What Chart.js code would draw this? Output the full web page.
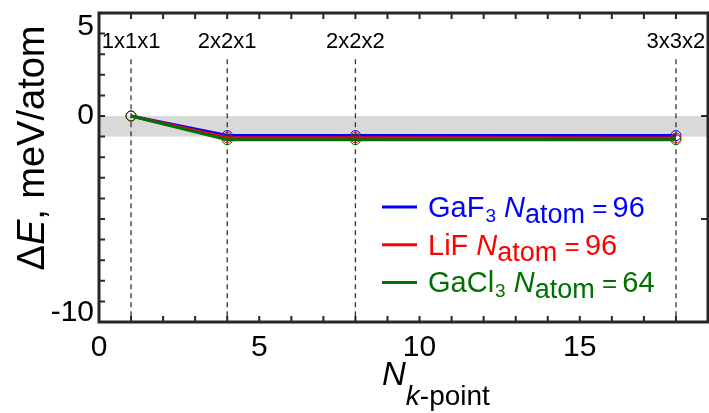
<!DOCTYPE html>
<html>
<head>
<meta charset="utf-8">
<script src="https://cdn.jsdelivr.net/npm/chart.js@4.4.0/dist/chart.umd.min.js"></script>
<style>
html, body { margin: 0; padding: 0; background: #fff; overflow: hidden; width: 709px; height: 413px; }
#wrap { position: relative; width: 716px; height: 413px; }
</style>
</head>
<body>
<div id="wrap"><canvas id="chart" width="716" height="413"></canvas></div>
<script>
// k-point meshes and energy differences (meV/atom) relative to 1x1x1
const kpoints = [1, 4, 8, 18];
const kgrids = ['1x1x1', '2x2x1', '2x2x2', '3x3x2'];
const gaf3 = [0, -0.95, -0.95, -0.95];
const lif = [0, -1.05, -1.05, -1.07];
const gacl3 = [0, -1.15, -1.15, -1.15];
const formulas = ['GaF', 'LiF', 'GaCl'];
const formulaSubs = ['3', '', '3'];
const nAtoms = [96, 96, 64];
const band = [-1, 0];
const yLabels = [5, 0, -10];

const colors = ['#0000ff', '#ff0000', '#007000'];
const FONT = "'Liberation Sans', Arial, Helvetica, sans-serif";
const guideTop = 2.75;

let ctx = document.getElementById('chart');

function series(vals, color, order) {
    return {
        data: kpoints.map((k, i) => ({ x: k, y: vals[i] })),
        borderColor: color,
        borderWidth: 3,
        pointRadius: 5,
        pointBorderWidth: 1,
        pointBackgroundColor: 'rgba(0,0,0,0)',
        pointBorderColor: color,
        fill: false,
        tension: 0,
        order: order
    };
}

let datasets = [
    series(gaf3, colors[0], 2),
    series(lif, colors[1], 1),
    series(gacl3, colors[2], 0)
];
// vertical dashed guides at each mesh
kpoints.forEach(k => {
    datasets.push({
        data: [{ x: k, y: guideTop }, { x: k, y: -10 }],
        borderColor: '#333',
        borderWidth: 1.3,
        borderDash: [5, 4],
        pointRadius: 0,
        order: 5
    });
});

function txt(c, s, x, y, size, italic, color) {
    c.font = (italic ? 'italic ' : '') + size + 'px ' + FONT;
    c.fillStyle = color;
    c.fillText(s, x, y);
    return x + c.measureText(s).width;
}

const decor = {
    id: 'decor',
    beforeDatasetsDraw(chart) {
        const c = chart.ctx, a = chart.chartArea, ys = chart.scales.y;
        c.save();
        c.fillStyle = '#d9d9d9';
        let y0 = ys.getPixelForValue(band[1]), y1 = ys.getPixelForValue(band[0]);
        c.fillRect(a.left, y0, a.right - a.left, y1 - y0);
        c.restore();
    },
    afterDatasetsDraw(chart) {
        const c = chart.ctx, a = chart.chartArea;
        const xs = chart.scales.x, ys = chart.scales.y;
        c.save();
        // frame
        c.strokeStyle = '#262626';
        c.lineWidth = 3;
        c.strokeRect(a.left, a.top, a.right - a.left, a.bottom - a.top);
        // inward ticks
        c.lineWidth = 2;
        c.beginPath();
        xs.ticks.forEach(t => {
            let p = xs.getPixelForValue(t.value);
            c.moveTo(p, a.bottom); c.lineTo(p, a.bottom - 6);
            c.moveTo(p, a.top); c.lineTo(p, a.top + 6);
        });
        ys.ticks.forEach(t => {
            let p = ys.getPixelForValue(t.value);
            c.moveTo(a.left, p); c.lineTo(a.left + 6, p);
            if (t.value % 5 === 0) { c.moveTo(a.right, p); c.lineTo(a.right - 7, p); }
        });
        c.stroke();

        // y tick labels
        c.textAlign = 'right';
        c.textBaseline = 'middle';
        c.font = '30px ' + FONT;
        c.fillStyle = '#000';
        yLabels.forEach(v => {
            let p = ys.getPixelForValue(v);
            p = Math.min(Math.max(p, a.top + 14), a.bottom - 9);
            c.fillText(String(v), a.left - 5, p);
        });

        // mesh labels
        c.textAlign = 'center';
        c.font = '22px ' + FONT;
        kgrids.forEach((g, i) => {
            c.fillText(g, xs.getPixelForValue(kpoints[i]), ys.getPixelForValue(guideTop) - 17);
        });

        // axis titles
        c.textAlign = 'left';
        c.textBaseline = 'alphabetic';
        let x = txt(c, 'N', 382, 385, 33, true, '#000');
        x = txt(c, 'k', x, 405, 28, true, '#000');
        txt(c, '-point', x, 405, 28, false, '#000');

        c.save();
        c.translate(44, 148);
        c.rotate(-Math.PI / 2);
        c.font = '38px ' + FONT;
        let w = c.measureText('\u0394, meV/atom').width;
        c.font = 'italic 38px ' + FONT;
        w += c.measureText('E').width;
        let tx = -w / 2;
        tx = txt(c, '\u0394', tx, 0, 38, false, '#000');
        tx = txt(c, 'E', tx, 0, 38, true, '#000');
        txt(c, ', meV/atom', tx, 0, 38, false, '#000');
        c.restore();

        // legend
        formulas.forEach((f, i) => {
            let ly = 207 + i * 37.7;
            c.strokeStyle = colors[i];
            c.lineWidth = 3;
            c.beginPath();
            c.moveTo(382, ly); c.lineTo(417, ly);
            c.stroke();
            let b = ly + 10;
            let lx = txt(c, f, 428, b, 29, false, colors[i]);
            if (formulaSubs[i]) lx = txt(c, formulaSubs[i], lx + 1, b + 5, 19, false, colors[i]);
            lx = txt(c, ' ', lx, b, 29, false, colors[i]);
            lx = txt(c, 'N', lx, b, 29, true, colors[i]);
            lx = txt(c, 'atom', lx, b + 6, 27, false, colors[i]);
            lx = txt(c, ' = ', lx, b, 26, false, colors[i]);
            txt(c, String(nAtoms[i]), lx - 2, b, 29, false, colors[i]);
        });
        c.restore();
    }
};

let myChart = new Chart(ctx, {
    type: 'line',
    data: { datasets: datasets },
    options: {
        responsive: false,
        animation: false,
        devicePixelRatio: 1,
        layout: { autoPadding: false, padding: { left: 0, top: 13, right: 2, bottom: 0 } },
        plugins: { legend: { display: false }, tooltip: { enabled: false } },
        scales: {
            x: {
                type: 'linear',
                min: 0,
                max: 19,
                afterFit: s => { s.height = 91; },
                ticks: {
                    stepSize: 1,
                    autoSkip: false,
                    maxRotation: 0,
                    padding: 8,
                    color: '#000',
                    font: { family: FONT, size: 30 },
                    callback: v => (v % 5 === 0 ? v : '')
                },
                grid: { display: false, drawTicks: false },
                border: { display: false }
            },
            y: {
                type: 'linear',
                min: -10,
                max: 5,
                afterFit: s => { s.width = 99; },
                ticks: { display: false, stepSize: 1 },
                grid: { display: false, drawTicks: false },
                border: { display: false }
            }
        }
    },
    plugins: [decor]
});
</script>
</body>
</html>
